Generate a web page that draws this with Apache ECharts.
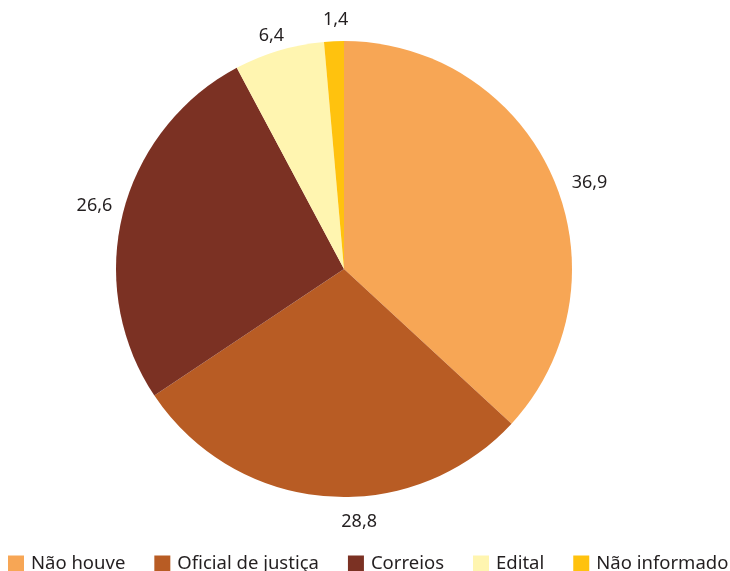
<!DOCTYPE html>
<html>
<head>
<meta charset="utf-8">
<script src="https://cdn.jsdelivr.net/npm/echarts@6/dist/echarts.min.js"></script>
<style>
  html, body { margin: 0; padding: 0; background: #ffffff; }
  #chart { width: 730px; height: 571px; }
</style>
</head>
<body>
<div id="chart"></div>
<script>
// Categories, shares (%) and slice colours
const categories = ['Não houve', 'Oficial de justiça', 'Correios', 'Edital', 'Não informado'];
const shares = [36.9, 28.8, 26.6, 6.4, 1.4];
const colors = ['#F7A655', '#B85C24', '#7B3123', '#FFF5B0', '#FFC20E'];

// Small nudges for the value labels around the rim, in slice order
const LABEL_NUDGE = [[-3, 11], [61, 12], [12, -4], [18, -1], [24, -7]];

const chart = echarts.init(document.getElementById('chart'), null, { renderer: 'canvas' });

const fontFamily = '"Noto Sans", "Open Sans", sans-serif';

chart.setOption({
  animation: false,
  color: colors,
  legend: {
    data: categories,
    left: 8,
    top: 554,
    width: 722,
    padding: 0,
    orient: 'horizontal',
    icon: 'rect',
    itemWidth: 16,
    itemHeight: 16,
    itemGap: 29,
    textStyle: {
      fontFamily: fontFamily,
      fontSize: 18.5,
      color: '#231F20',
      padding: [0, 0, 0, 2]
    }
  },
  series: [{
    type: 'pie',
    center: [344, 269],
    radius: 228,
    startAngle: 90,
    clockwise: true,
    avoidLabelOverlap: false,
    data: categories.map((name, i) => ({ name: name, value: shares[i] })),
    label: {
      show: true,
      position: 'outside',
      fontFamily: fontFamily,
      fontSize: 18,
      color: '#231F20',
      formatter: p => p.value.toFixed(1).replace('.', ',')
    },
    labelLine: {
      show: false,
      length: 14,
      length2: 4
    },
    labelLayout: params => ({
      dx: LABEL_NUDGE[params.dataIndex][0],
      dy: LABEL_NUDGE[params.dataIndex][1]
    }),
    itemStyle: {
      borderWidth: 0
    },
    emphasis: { disabled: true }
  }]
});
</script>
</body>
</html>
